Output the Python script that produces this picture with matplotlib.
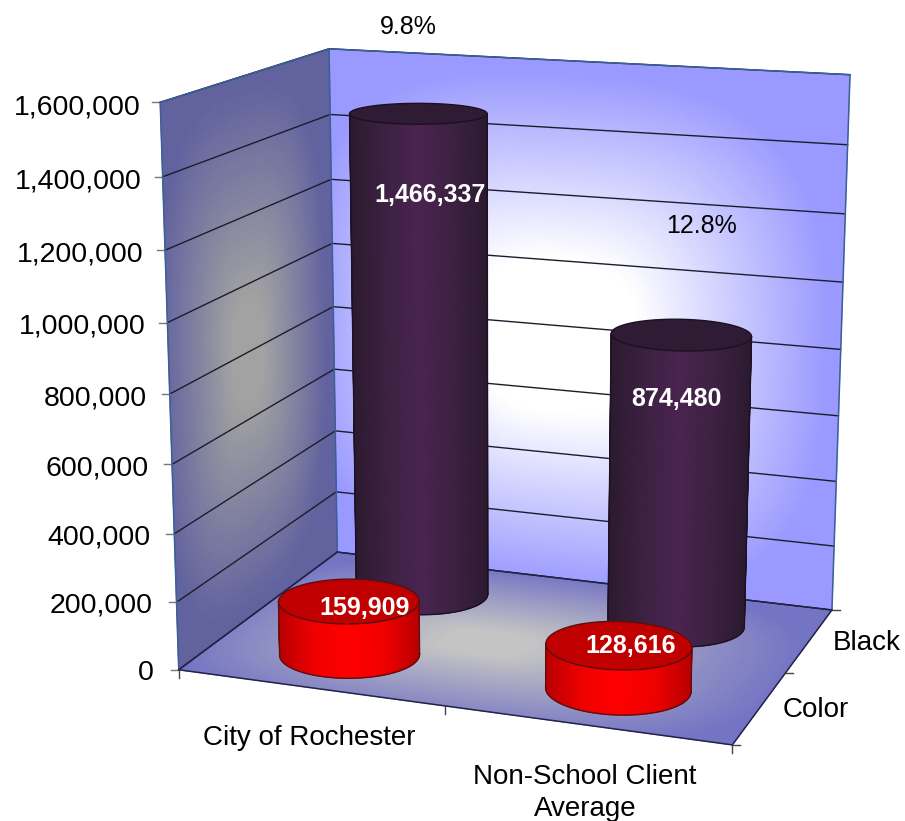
import numpy as np
from matplotlib import pyplot as plt
from matplotlib.colors import LinearSegmentedColormap
from matplotlib.patches import Polygon

plt.rcParams['font.family'] = ['Liberation Sans', 'DejaVu Sans']

categories = ['City of Rochester', 'Non-School Client\nAverage']
series_names = ['Color', 'Black']
color_values = [159909, 128616]
black_values = [1466337, 874480]
percent_labels = ['9.8%', '12.8%']
z_ticks = [0, 200000, 400000, 600000, 800000, 1000000, 1200000, 1400000, 1600000]
z_max = 1600000

# chart box: (x across, depth, height) -> pixel, fitted to the picture's corners
BOX = [
    (0, 0, 0, 179, 670), (1, 0, 0, 732, 745), (1, 1, 0, 832, 610), (0, 1, 0, 337, 552),
    (0, 0, 1, 160, 102), (0, 1, 1, 329, 49), (1, 1, 1, 850, 75),
    (0, 0, 0.5, 170, 394), (1, 1, 0.5, 841, 349),
]


def fit_projection(points):
    rows = []
    for x, d, z, u, v in points:
        u, v = u / 1000, v / 1000
        rows.append([x, d, z, 1, 0, 0, 0, 0, -u * x, -u * d, -u * z, -u])
        rows.append([0, 0, 0, 0, x, d, z, 1, -v * x, -v * d, -v * z, -v])
    return np.linalg.svd(np.array(rows))[2][-1].reshape(3, 4)


P = fit_projection(BOX)


def project(x, d, z):
    x, d, z = np.broadcast_arrays(x, d, z)
    h = P @ np.stack([x.ravel(), d.ravel(), z.ravel(), np.ones(x.size)])
    return (1000 * h[0] / h[2]).reshape(x.shape), (1000 * h[1] / h[2]).reshape(x.shape)


def ramp(*cols):
    return LinearSegmentedColormap.from_list('r', cols)


def glow(a, b, ca, cb, ra, rb, flat=0.15, p=3):
    da = np.abs(a - ca) / ra
    db = np.abs(b - cb) / rb
    t = (da ** p + db ** p) ** (1 / p)
    return np.clip((t - flat) / (1 - flat), 0, 1)


fig = plt.figure(figsize=(9.05, 8.21), dpi=100)
ax = fig.add_axes([0, 0, 1, 1])
ax.set_xlim(0, 905)
ax.set_ylim(821, 0)
ax.axis('off')

grid = np.linspace(0, 1, 70)
A, B = np.meshgrid(grid, grid)

# walls and floor
X, Y = project(A, 1.0, B)
ax.pcolormesh(X, Y, glow(A, B, 0.46, 0.48, 0.52, 0.50, flat=0.3), cmap=ramp('#ffffff', '#9999ff'),
              shading='gouraud', vmin=0, vmax=1, zorder=1)
X, Y = project(0.0, A, B)
ax.pcolormesh(X, Y, glow(A, B, 0.45, 0.50, 0.50, 0.48, flat=0.2), cmap=ramp('#a2a2a2', '#62629f'),
              shading='gouraud', vmin=0, vmax=1, zorder=1)
X, Y = project(A, B, 0.0)
ax.pcolormesh(X, Y, glow(A, B, 0.46, 0.45, 0.55, 0.58), cmap=ramp('#c4c4c4', '#7474c4'),
              shading='gouraud', vmin=0, vmax=1, zorder=1)

# gridlines on the walls
for tick in z_ticks:
    z = tick / z_max
    xs, ys = project(np.array([0.0, 0.0, 1.0]), np.array([0.0, 1.0, 1.0]), z)
    ax.plot(xs, ys, color='#1c1c2c', lw=1.0, zorder=2)
    ax.plot([xs[0] - 8, xs[0]], [ys[0], ys[0]], color='#777777', lw=1.0, zorder=2)
    ax.text(xs[0] - 25 + 5 * z, ys[0] + 3 + 2 * z, f'{tick:,}', ha='right', va='center',
            fontsize=20.5, zorder=5)

# box edges
edges = [((0, 1, 0), (0, 1, 1)), ((1, 1, 0), (1, 1, 1)), ((0, 0, 0), (0, 0, 1)),
         ((0, 0, 1), (0, 1, 1)), ((0, 1, 1), (1, 1, 1))]
for a, b in edges:
    xs, ys = project(*np.array([a, b], dtype=float).T)
    ax.plot(xs, ys, color='#3a6098', lw=1.1, zorder=2)
for a, b in [((0, 0, 0), (1, 0, 0)), ((1, 0, 0), (1, 1, 0)), ((0, 0, 0), (0, 1, 0)), ((0, 1, 0), (1, 1, 0))]:
    xs, ys = project(*np.array([a, b], dtype=float).T)
    ax.plot(xs, ys, color='#23234a', lw=1.1, zorder=2)

# axis ticks along the floor
for x in [0, 0.5, 1]:
    px, py = project(float(x), 0.0, 0.0)
    ax.plot([px, px], [py, py + 8], color='#444444', lw=1.0, zorder=2)
for d in [0, 0.5, 1]:
    px, py = project(1.0, float(d), 0.0)
    ax.plot([px, px + 8], [py, py], color='#444444', lw=1.0, zorder=2)

R_X, R_D = 0.125, 0.17


def cylinder(cx, cd, value, side_cmap, top_color, edge_color, zorder):
    z = value / z_max
    th = np.linspace(0, 2 * np.pi, 361)
    ox, oy = project(cx + R_X * np.cos(th), cd + R_D * np.sin(th), 0.0)
    lo, hi = th[np.argmin(ox)], th[np.argmax(ox)]
    if hi < lo:
        hi += 2 * np.pi
    arc = np.linspace(lo, hi, 80)
    tt, zz = np.meshgrid(arc, np.linspace(0, z, 12))
    X, Y = project(cx + R_X * np.cos(tt), cd + R_D * np.sin(tt), zz)
    s = (X - X.min(axis=1, keepdims=True)) / np.ptp(X, axis=1, keepdims=True)
    ax.pcolormesh(X, Y, 1 - np.abs(2 * s - 1), cmap=side_cmap, shading='gouraud',
                  vmin=0, vmax=1, zorder=zorder)
    tx, ty = project(cx + R_X * np.cos(th), cd + R_D * np.sin(th), z)
    ax.add_patch(Polygon(np.column_stack([tx, ty]), closed=True, facecolor=top_color,
                         edgecolor=edge_color, lw=1.0, zorder=zorder + 0.1))
    for k in [0, -1]:
        ax.plot(X[:, k], Y[:, k], color=edge_color, lw=1.0, zorder=zorder + 0.1)
    ax.plot(X[0], Y[0], color=edge_color, lw=1.0, zorder=zorder + 0.1)


centers_x = [0.25, 0.75]
depth_black, depth_color = 0.75, 0.25
dark_side = ramp('#2c1a30', '#3d2142', '#4a2450')
red_side = ramp('#b80000', '#f00000', '#ff0000')
for cx, val in zip(centers_x, black_values):
    cylinder(cx, depth_black, val, dark_side, '#2f1b33', '#1c1020', 3)
for cx, val in zip(centers_x, color_values):
    cylinder(cx, depth_color, val, red_side, '#c00000', '#5a1010', 3.5)

# value labels on the bars
bold = dict(color='white', fontweight='bold', fontsize=18, ha='center', va='center', zorder=6)
for (px, py), val in zip([(430, 195), (676, 399)], black_values):
    ax.text(px, py, f'{val:,}', **bold)
for (px, py), val in zip([(365, 608), (631, 646)], color_values):
    ax.text(px, py, f'{val:,}', **bold)

# percentages above the bars
for (px, py), label in zip([(408, 27), (701, 226)], percent_labels):
    ax.text(px, py, label, ha='center', va='center', fontsize=18, zorder=6)

# category and depth labels
for (px, py), label in zip([(309, 738), (585, 793)], categories):
    ax.text(px, py, label, ha='center', va='center', fontsize=20, linespacing=1.25, zorder=6)
for (px, py), label in zip([(783, 710), (833, 643)], series_names):
    ax.text(px, py, label, ha='left', va='center', fontsize=20, zorder=6)

fig.savefig('out.png', dpi=100)
